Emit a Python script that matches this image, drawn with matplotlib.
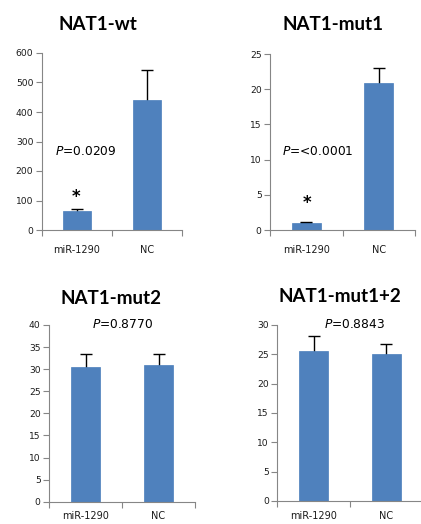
import matplotlib
matplotlib.use("Agg")
import matplotlib.pyplot as plt

categories = ["miR-1290", "NC"]
titles = ["NAT1-wt", "NAT1-mut1", "NAT1-mut2", "NAT1-mut1+2"]
means = [[63, 440], [1.05, 20.9], [30.4, 31.0], [25.6, 25.1]]
errors = [[8, 102], [0.1, 2.1], [3.0, 2.4], [2.5, 1.6]]
ymax = [600, 25, 40, 30]
ystep = [100, 5, 5, 5]
pvals = ["=0.0209", "=<0.0001", "=0.8770", "=0.8843"]
stars = [True, True, False, False]

W, H = 421, 524
fig = plt.figure(figsize=(W / 100, H / 100), dpi=100)

# axes boxes in pixels: left, right, bottom(y=0), top
boxes = [(41.7, 181.7, 230, 53), (270, 415, 230, 54),
         (49, 195, 501.7, 325), (277.3, 422.5, 501, 325)]
title_pos = [(97.5, 25), (332.5, 25), (111, 299), (340, 296)]
p_pos = [(86, 151.7), (317.5, 151.7), (122.5, 324.5), (355, 324)]
star_pos = [(76, 197), (306.7, 203)]
xlabel_pad = [11, 11, 7, 7]

bar_color = "#4F81BD"
spine_color = "#868686"

for i in range(4):
    l, r, b, t = boxes[i]
    ax = fig.add_axes([l / W, 1 - b / H, (r - l) / W, (b - t) / H])
    x = [0.5, 1.5]
    ax.errorbar(x, means[i], yerr=errors[i], fmt="none", ecolor="black",
                elinewidth=1.0, capsize=4, capthick=1.0, zorder=1)
    ax.bar(x, means[i], width=0.4, color=bar_color, edgecolor="#4A7EBB", linewidth=0.5, zorder=2)
    ax.set_xlim(0, 2)
    ax.set_ylim(0, ymax[i])
    ax.set_yticks(list(range(0, ymax[i] + 1, ystep[i])))
    ax.set_xticks([0, 1, 2])
    ax.set_xticklabels([])
    ax.set_xticks(x, minor=True)
    ax.set_xticklabels(categories, minor=True)
    ax.tick_params(axis="x", which="major", length=4, width=0.8, color=spine_color, direction="out")
    ax.tick_params(axis="x", which="minor", length=0, pad=xlabel_pad[i], labelsize=7.0,
                   labelcolor="#1a1a1a")
    ax.tick_params(axis="y", length=4, width=0.8, color=spine_color, direction="out",
                   labelsize=6.6, labelcolor="#1a1a1a", pad=2)
    for s in ["top", "right"]:
        ax.spines[s].set_visible(False)
    for s in ["left", "bottom"]:
        ax.spines[s].set_color(spine_color)
        ax.spines[s].set_linewidth(0.8)

    tx, ty = title_pos[i]
    fig.text(tx / W, 1 - ty / H, titles[i], ha="center", va="center",
             fontsize=13.5, fontweight="bold", family="Lato", color="black")
    px, py = p_pos[i]
    fig.text(px / W, 1 - py / H, r"$\mathit{P}$" + pvals[i], ha="center", va="center",
             fontsize=8.8, color="black")
    if stars[i]:
        sx, sy = star_pos[i]
        fig.text(sx / W, 1 - sy / H, "*", ha="center", va="center",
                 fontsize=12, fontweight="bold", color="black")

fig.savefig("out.png", dpi=100)
